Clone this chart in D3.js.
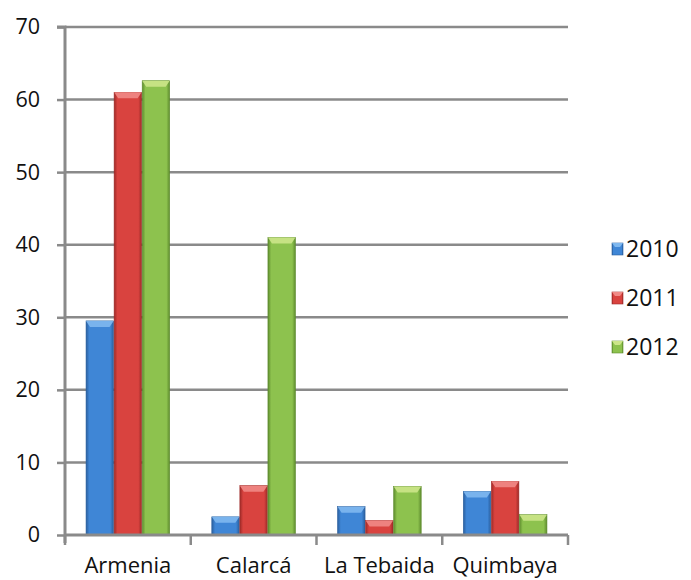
<!DOCTYPE html>
<html><head><meta charset="utf-8">
<script src="https://cdn.jsdelivr.net/npm/d3@7"></script>
<style>body{margin:0;background:#fff}svg{display:block}</style>
</head><body>
<svg id="c" width="691" height="580"></svg>
<script>
const categories = ["Armenia", "Calarcá", "La Tebaida", "Quimbaya"];
const seriesNames = ["2010", "2011", "2012"];
const v2010 = [29.5, 2.5, 3.9, 6.0];
const v2011 = [61.0, 6.8, 2.0, 7.4];
const v2012 = [62.6, 41.0, 6.7, 2.8];
const yTicks = [0, 10, 20, 30, 40, 50, 60, 70];
const colors = {
  "2010": {mid:"#3f86d6", dark:"#2a5f9e", light:"#7fb8ef"},
  "2011": {mid:"#d9433f", dark:"#9e2a28", light:"#f08a86"},
  "2012": {mid:"#8dc24e", dark:"#5e8c2e", light:"#cce58a"}
};
const values = {"2010": v2010, "2011": v2011, "2012": v2012};

const svg = d3.select("#c");
const font = "'Open Sans', 'Noto Sans', sans-serif";
const x0 = 65, x1 = 568, yTop = 27, yBot = 535;

const x = d3.scaleBand().domain(categories).range([x0, x1]).paddingInner(0).paddingOuter(0);
const xs = d3.scaleBand().domain(seriesNames).range([0, x.bandwidth()]).paddingOuter(0.75).paddingInner(0.02);
const y = d3.scaleLinear().domain([0, 70]).range([yBot, yTop]);

const defs = svg.append("defs");
seriesNames.forEach(s => {
  const c = colors[s];
  const g = defs.append("linearGradient").attr("id", "g" + s).attr("x1", "0").attr("x2", "1").attr("y1", "0").attr("y2", "0");
  g.append("stop").attr("offset", "0").attr("stop-color", c.dark);
  g.append("stop").attr("offset", "0.12").attr("stop-color", c.mid);
  g.append("stop").attr("offset", "0.5").attr("stop-color", c.mid);
  g.append("stop").attr("offset", "0.88").attr("stop-color", c.mid);
  g.append("stop").attr("offset", "1").attr("stop-color", c.dark);
});

// gridlines
svg.append("g").selectAll("line").data(yTicks.filter(t => t > 0)).join("line")
  .attr("x1", x0).attr("x2", x1).attr("y1", d => y(d)).attr("y2", d => y(d))
  .attr("stroke", "#8a8a8a").attr("stroke-width", 2.5);

// y axis
const yAxis = d3.axisLeft(y).tickValues(yTicks).tickSize(8).tickPadding(10);
const ga = svg.append("g").attr("transform", `translate(${x0},0)`).call(yAxis);
ga.select(".domain").attr("stroke", "#8a8a8a").attr("stroke-width", 3).attr("d", `M-8,${yTop}H0V${yBot+8}`);
ga.selectAll(".tick line").attr("stroke", "#8a8a8a").attr("stroke-width", 2.5);
ga.selectAll(".tick text").attr("font-family", font).attr("font-size", 21.5).attr("fill", "#111").attr("x", -25);

// bars
const groups = svg.append("g").selectAll("g").data(categories).join("g")
  .attr("transform", d => `translate(${x(d)},0)`);
seriesNames.forEach(s => {
  const c = colors[s];
  groups.each(function(cat, i) {
    const val = values[s][i];
    const bx = xs(s), bw = xs.bandwidth();
    const top = y(val), h = yBot - top;
    const g = d3.select(this);
    g.append("rect").attr("x", bx).attr("y", top).attr("width", bw).attr("height", h)
      .attr("fill", `url(#g${s})`).attr("stroke", c.dark).attr("stroke-width", 0.6);
    const bev = Math.min(6, h / 2);
    g.append("path")
      .attr("d", `M${bx},${top}H${bx+bw}L${bx+bw-4},${top+bev}H${bx+4}Z`)
      .attr("fill", c.light).attr("opacity", 0.9);
  });
});

// x axis
svg.append("line").attr("x1", x0).attr("x2", x1).attr("y1", yBot).attr("y2", yBot)
  .attr("stroke", "#8a8a8a").attr("stroke-width", 3);
const xt = categories.map(c => x(c)).concat([x1]);
svg.append("g").selectAll("line").data(xt).join("line")
  .attr("x1", d => d).attr("x2", d => d).attr("y1", yBot).attr("y2", yBot + 10)
  .attr("stroke", "#8a8a8a").attr("stroke-width", 2.5);
svg.append("g").selectAll("text").data(categories).join("text")
  .attr("x", d => x(d) + x.bandwidth() / 2).attr("y", 573)
  .attr("text-anchor", "middle").attr("font-family", font).attr("font-size", 22).attr("fill", "#111")
  .text(d => d);

// legend
const lg = svg.append("g").selectAll("g").data(seriesNames).join("g")
  .attr("transform", (d, i) => `translate(612,${249 + i * 49})`);
lg.append("rect").attr("x", 0).attr("y", -6).attr("width", 11).attr("height", 12)
  .attr("fill", d => `url(#g${d})`).attr("stroke", d => colors[d].dark).attr("stroke-width", 0.6);
lg.append("path").attr("d", "M0,-6H11L8,-2H3Z").attr("fill", d => colors[d].light);
lg.append("text").attr("x", 14).attr("y", 8).attr("font-family", font).attr("font-size", 23).attr("fill", "#111")
  .text(d => d);
</script>
</body></html>
